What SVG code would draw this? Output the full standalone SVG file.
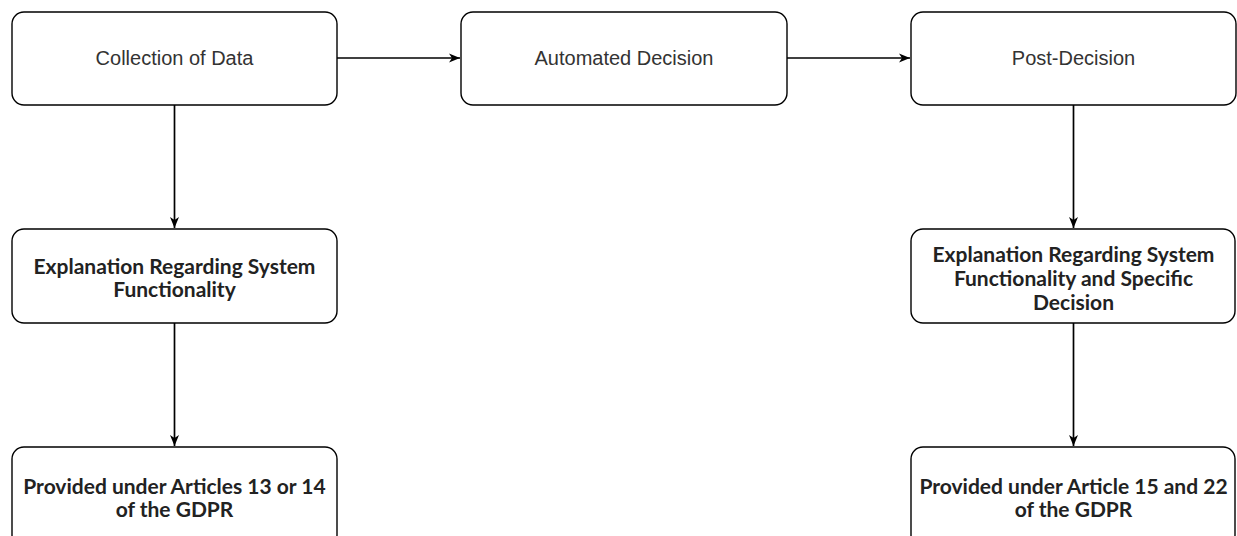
<svg xmlns="http://www.w3.org/2000/svg" width="1237" height="536" viewBox="0 0 1237 536">
<defs>
<marker id="ah" viewBox="0 0 11 10" refX="11" refY="5" markerWidth="11" markerHeight="10" markerUnits="userSpaceOnUse" orient="auto">
<path d="M0,0.5 L11,5 L0,9.5 L3,5 Z" fill="#000"/>
</marker>
<style>
.box{fill:#fff;stroke:#000;stroke-width:1.4}
.t1{font-family:"Liberation Sans",Arial,sans-serif;font-size:20px;fill:#333;text-anchor:middle;dominant-baseline:central}
.t2{font-family:Lato,"Liberation Sans",sans-serif;font-weight:bold;font-size:21px;fill:#222;text-anchor:middle;dominant-baseline:central}
.c{fill:none;stroke:#000;stroke-width:1.7;marker-end:url(#ah)}
</style>
</defs>
<rect width="1237" height="536" fill="#fff"/>
<g id="connectors">
<path class="c" d="M337,58 L460,58"/>
<path class="c" d="M787,58 L910,58"/>
<path class="c" d="M174.5,105 L174.5,228"/>
<path class="c" d="M174.5,323 L174.5,446"/>
<path class="c" d="M1073.5,105 L1073.5,228"/>
<path class="c" d="M1073.5,323 L1073.5,446"/>
</g>
<g id="collection">
<rect class="box" x="12" y="12" width="325" height="93" rx="12"/>
<text class="t1" x="174.5" y="58">Collection of Data</text>
</g>
<g id="automated">
<rect class="box" x="461" y="12" width="326" height="93" rx="12"/>
<text class="t1" x="624" y="58">Automated Decision</text>
</g>
<g id="postdecision">
<rect class="box" x="911" y="12" width="325" height="93" rx="12"/>
<text class="t1" x="1073.5" y="58">Post-Decision</text>
</g>
<g id="explain-left">
<rect class="box" x="12" y="229" width="325" height="94" rx="12"/>
<text class="t2" x="174.5" y="265">Explanation Regarding System</text>
<text class="t2" x="174.5" y="288">Functionality</text>
</g>
<g id="explain-right">
<rect class="box" x="911" y="229" width="324" height="94" rx="12"/>
<text class="t2" x="1073.5" y="253">Explanation Regarding System</text>
<text class="t2" x="1073.5" y="277">Functionality and Specific</text>
<text class="t2" x="1073.5" y="301">Decision</text>
</g>
<g id="provided-left">
<rect class="box" x="12" y="447" width="325" height="100" rx="12"/>
<text class="t2" x="174.5" y="485">Provided under Articles 13 or 14</text>
<text class="t2" x="174.5" y="508">of the GDPR</text>
</g>
<g id="provided-right">
<rect class="box" x="911" y="447" width="324" height="100" rx="12"/>
<text class="t2" x="1073.5" y="485">Provided under Article 15 and 22</text>
<text class="t2" x="1073.5" y="508">of the GDPR</text>
</g>
</svg>
